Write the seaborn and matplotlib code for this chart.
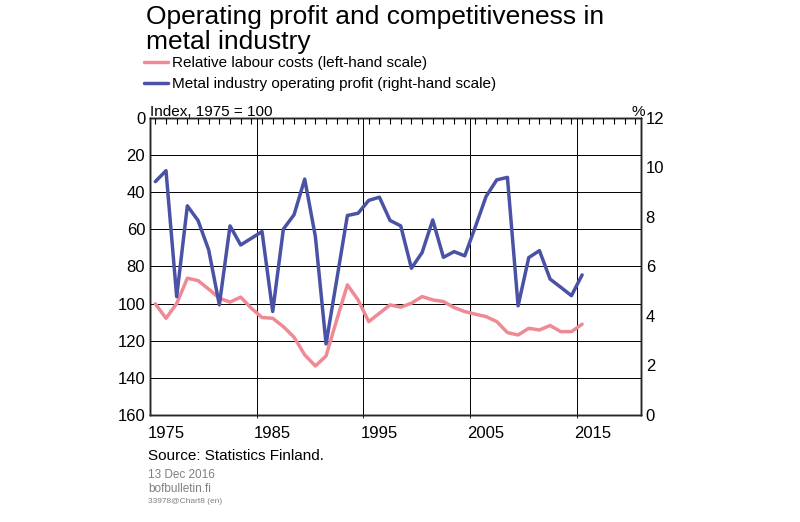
import numpy as np
import pandas as pd
import seaborn as sns
import matplotlib.pyplot as plt
from matplotlib.ticker import FixedLocator, MultipleLocator

years = list(range(1974, 2015))
labour_costs = [100.1, 107.9, 100, 86.3, 87.6, 92.2, 97.1, 99.2, 96.5, 102.5,
                107.5, 107.9, 112.4, 118.1, 127.6, 133.6, 128.2, 108.8, 89.9, 98,
                109.7, 105.2, 100.7, 101.9, 99.8, 96.2, 98, 98.9, 102.1, 104.3,
                105.7, 107, 109.7, 115.6, 116.9, 113.3, 114.2, 111.8, 115.1, 115.1, 111.1]
operating_profit = [9.43, 9.87, 4.78, 8.45, 7.86, 6.67, 4.45, 7.64, 6.87, 7.14,
                    7.41, 4.18, 7.51, 8.09, 9.53, 7.21, 2.87, 5.46, 8.06, 8.15,
                    8.67, 8.80, 7.86, 7.64, 5.93, 6.56, 7.88, 6.37, 6.60, 6.43,
                    7.61, 8.83, 9.50, 9.60, 4.41, 6.36, 6.64, 5.49, 5.16, 4.82, 5.66]
tick_years = [1975, 1985, 1995, 2005, 2015]
grid_years = [1983.5, 1993.5, 2003.5, 2013.5]

df = pd.DataFrame({"year": years, "labour": labour_costs, "profit": operating_profit})

sns.set_style("white")
plt.rcParams['font.family'] = ['Liberation Sans', 'DejaVu Sans']
plt.rcParams['text.color'] = 'black'
plt.rcParams['xtick.color'] = 'black'
plt.rcParams['ytick.color'] = 'black'

fig = plt.figure(figsize=(8, 5.22), dpi=100)
ax = fig.add_axes([0.1875, 0.205, 0.6135, 0.569])
ax2 = ax.twinx()

pink = "#ef8a94"
blue = "#4a52a6"
sns.lineplot(data=df, x="year", y="labour", ax=ax, color=pink, lw=2.5)
sns.lineplot(data=df, x="year", y="profit", ax=ax2, color=blue, lw=2.5)

ax.set_xlim(1973.5, 2019.5)
ax.set_ylim(160, 0)
ax2.set_ylim(0, 12)
ax.set_yticks(range(0, 161, 20))
ax2.set_yticks(range(0, 13, 2))
ax.set_xticks(tick_years)
ax.xaxis.set_minor_locator(FixedLocator(grid_years))
ax.grid(False)
ax.grid(True, which="minor", axis="x", color="black", lw=0.7)
ax.grid(True, which="major", axis="y", color="black", lw=0.7)
for sp in list(ax.spines.values()) + list(ax2.spines.values()):
    sp.set_color("black")
    sp.set_linewidth(1)
ax.tick_params(axis="x", which="major", length=0, labelsize=12, pad=8)
ax.tick_params(axis="y", length=0, labelsize=12)
ax2.tick_params(axis="y", length=0, labelsize=12)
ax.set_xlabel("")
ax.set_ylabel("")
ax2.set_ylabel("")

# small yearly ticks along the top
ax3 = ax.twiny()
ax3.set_xlim(ax.get_xlim())
ax3.xaxis.set_major_locator(MultipleLocator(1))
ax3.tick_params(axis="x", direction="in", length=4, labeltop=False, color="black")

fig.text(0.183, 0.897, "Operating profit and competitiveness in\nmetal industry",
         fontsize=19, va="bottom", linespacing=1.05)
fig.legend(handles=[plt.Line2D([], [], color=pink, lw=2.5), plt.Line2D([], [], color=blue, lw=2.5)],
           labels=["Relative labour costs (left-hand scale)",
                   "Metal industry operating profit (right-hand scale)"],
           loc="upper left", bbox_to_anchor=(0.18, 0.893), frameon=False, fontsize=11,
           handlelength=1.6, handletextpad=0.2, labelspacing=0.5, borderaxespad=0, borderpad=0)
fig.text(0.187, 0.778, "Index, 1975 = 100", fontsize=11)
fig.text(0.79, 0.778, "%", fontsize=11)
fig.text(0.185, 0.118, "Source: Statistics Finland.", fontsize=11)
fig.text(0.185, 0.085, "13 Dec 2016", fontsize=8.5, color="gray")
fig.text(0.185, 0.058, "bofbulletin.fi", fontsize=8.5, color="gray")
fig.text(0.185, 0.037, "33978@Chart8 (en)", fontsize=6, color="gray")

fig.savefig("out.png", dpi=100)
